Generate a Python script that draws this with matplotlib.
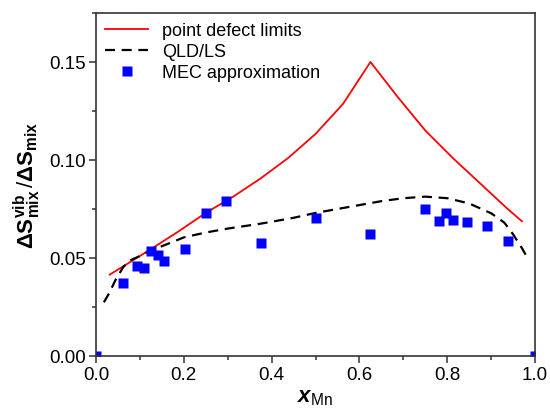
import matplotlib.pyplot as plt
import numpy as np
from matplotlib.ticker import MultipleLocator

plt.rcParams['font.family'] = ['Liberation Sans', 'DejaVu Sans']
plt.rcParams['mathtext.fontset'] = 'custom'
plt.rcParams['mathtext.rm'] = 'Liberation Sans'
plt.rcParams['mathtext.it'] = 'Liberation Sans:italic'
plt.rcParams['mathtext.bf'] = 'Liberation Sans:bold'
plt.rcParams['mathtext.bfit'] = 'Liberation Sans:bold:italic'

# point defect limits
x_pd = [0.03125, 0.0625, 0.125, 0.1875, 0.25, 0.3125, 0.375, 0.4375, 0.5,
        0.5625, 0.625, 0.6875, 0.75, 0.8125, 0.875, 0.9375, 0.97]
y_pd = [0.0415, 0.0458, 0.0545, 0.0635, 0.073, 0.0813, 0.0906, 0.101, 0.1133,
        0.1286, 0.150, 0.132, 0.115, 0.101, 0.088, 0.075, 0.0687]

# QLD/LS
x_qld = [0.018, 0.03, 0.045, 0.0625, 0.08, 0.1, 0.125, 0.15, 0.2, 0.25, 0.3,
         0.375, 0.45, 0.5, 0.55, 0.6, 0.65, 0.7, 0.75, 0.8, 0.85, 0.9, 0.93,
         0.95, 0.97, 0.985]
y_qld = [0.0274, 0.032, 0.039, 0.0455, 0.049, 0.051, 0.054, 0.056, 0.0605,
         0.063, 0.065, 0.0675, 0.0705, 0.073, 0.075, 0.077, 0.079, 0.0805,
         0.0813, 0.0805, 0.0778, 0.0728, 0.068, 0.062, 0.055, 0.049]

# MEC approximation
x_mec = [0.0, 0.0625, 0.094, 0.109, 0.125, 0.141, 0.156, 0.203, 0.25, 0.297,
         0.375, 0.5, 0.625, 0.75, 0.781, 0.797, 0.8125, 0.844, 0.891, 0.9375, 1.0]
y_mec = [0.0, 0.0372, 0.0459, 0.0451, 0.0537, 0.0517, 0.0485, 0.0548, 0.073,
         0.0789, 0.0577, 0.0704, 0.0624, 0.0752, 0.0689, 0.0731, 0.0696,
         0.0684, 0.0665, 0.0588, 0.0]

fig = plt.figure(figsize=(5.5, 4.1), dpi=100)
ax = fig.add_axes([0.1745, 0.1293, 0.7985, 0.8366])

ax.plot(x_pd, y_pd, 'r-', lw=1.3, label='point defect limits')
ax.plot(x_qld, y_qld, 'k--', lw=1.6, dashes=(4.5, 3), label='QLD/LS')
ax.plot(x_mec, y_mec, 's', color='#0000ff', ms=6.5, mec='none',
        label='MEC approximation')

ax.set_xlim(0, 1.0)
ax.set_ylim(0, 0.175)
ax.xaxis.set_major_locator(MultipleLocator(0.2))
ax.xaxis.set_minor_locator(MultipleLocator(0.1))
ax.yaxis.set_major_locator(MultipleLocator(0.05))
ax.yaxis.set_minor_locator(MultipleLocator(0.025))
ax.xaxis.set_major_formatter(plt.FuncFormatter(lambda v, p: f'{v:.1f}'))
ax.yaxis.set_major_formatter(plt.FuncFormatter(lambda v, p: f'{v:.2f}'))
ax.tick_params(which='major', direction='out', length=5, width=1.1,
               labelsize=13.5, color='#333333', pad=2.5)
ax.tick_params(which='minor', direction='out', length=3, width=1.1,
               color='#333333')
for s in ax.spines.values():
    s.set_linewidth(1.2)
    s.set_color('#333333')

ax.set_xlabel(r'$\mathbfit{x}_{\mathrm{Mn}}$', fontsize=16, labelpad=2)
ax.set_ylabel(r'$\mathbf{\Delta S}_{\mathbf{mix}}^{\mathbf{vib}}\,/\mathbf{\Delta S}_{\mathbf{mix}}$',
              fontsize=16, labelpad=4)

ax.legend(loc='upper left', frameon=False, fontsize=13, handlelength=2.4,
          handletextpad=0.75, labelspacing=0.22, borderaxespad=0.1)

fig.savefig('out.png', dpi=100)
